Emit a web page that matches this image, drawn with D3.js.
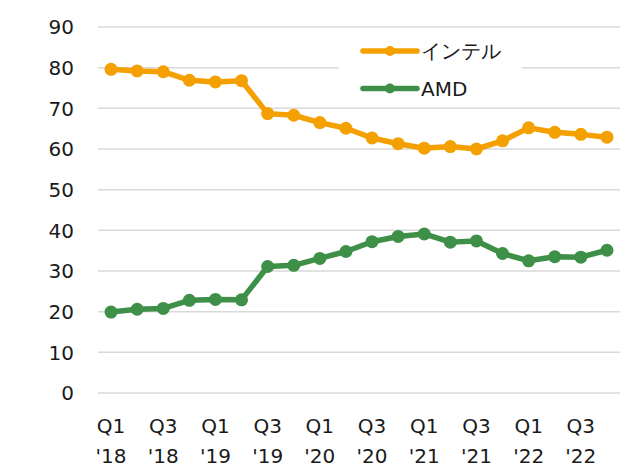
<!DOCTYPE html>
<html>
<head>
<meta charset="utf-8">
<script src="https://cdn.jsdelivr.net/npm/d3@7"></script>
<style>
  body { margin: 0; background: #fff; }
  svg { font-family: "DejaVu Sans", Verdana, sans-serif; }
</style>
</head>
<body>
<svg width="626" height="473"></svg>
<script>
var quarters = ["Q1 '18","Q2 '18","Q3 '18","Q4 '18","Q1 '19","Q2 '19","Q3 '19","Q4 '19",
                "Q1 '20","Q2 '20","Q3 '20","Q4 '20","Q1 '21","Q2 '21","Q3 '21","Q4 '21",
                "Q1 '22","Q2 '22","Q3 '22","Q4 '22"];
var intel = [79.6, 79.2, 79.0, 76.9, 76.5, 76.8, 68.7, 68.3, 66.5, 65.1,
             62.7, 61.3, 60.2, 60.6, 60.0, 62.0, 65.2, 64.1, 63.6, 62.9];
var amd = [19.9, 20.6, 20.8, 22.8, 23.0, 22.9, 31.1, 31.4, 33.1, 34.8,
           37.2, 38.5, 39.1, 37.1, 37.4, 34.3, 32.5, 33.5, 33.4, 35.1];
var yTicks = [0, 10, 20, 30, 40, 50, 60, 70, 80, 90];
var seriesNames = ["インテル", "AMD"];
var seriesColors = ["#F4A000", "#3E8F47"];

var svg = d3.select("svg"),
    margin = {top: 27, right: 6, bottom: 80, left: 98},
    width = 626 - margin.left - margin.right,
    height = 473 - margin.top - margin.bottom,
    g = svg.append("g").attr("transform", "translate(" + margin.left + "," + margin.top + ")");

var x = d3.scaleBand().domain(quarters).range([0, width]);
var y = d3.scaleLinear().domain([0, 90]).range([height, 0]);

// gridlines
g.append("g")
  .selectAll("line")
  .data(yTicks)
  .enter().append("line")
    .attr("x1", 0).attr("x2", width)
    .attr("y1", function(d) { return y(d); })
    .attr("y2", function(d) { return y(d); })
    .attr("stroke", "#D9D9D9")
    .attr("stroke-width", 1.5);

// y axis labels
g.append("g")
  .selectAll("text")
  .data(yTicks)
  .enter().append("text")
    .attr("x", -24)
    .attr("y", function(d) { return y(d); })
    .attr("dy", "0.36em")
    .attr("text-anchor", "end")
    .attr("font-size", 20)
    .attr("fill", "#1a1a1a")
    .text(function(d) { return d; });

// x axis labels every other quarter
var xl = g.append("g")
  .selectAll("text")
  .data(quarters.filter(function(d, i) { return i % 2 == 0; }))
  .enter().append("text")
    .attr("text-anchor", "middle")
    .attr("font-size", 20)
    .attr("fill", "#1a1a1a");
xl.append("tspan")
    .attr("x", function(d) { return x(d) + x.bandwidth() / 2; })
    .attr("y", height + 40)
    .text(function(d) { return d.split(" ")[0]; });
xl.append("tspan")
    .attr("x", function(d) { return x(d) + x.bandwidth() / 2; })
    .attr("y", height + 70)
    .text(function(d) { return d.split(" ")[1]; });

// legend background
var legend = g.append("g").attr("transform", "translate(241,4)");
legend.append("rect")
    .attr("width", 183).attr("height", 76)
    .attr("fill", "#fff");

var allSeries = [intel, amd];
var line = d3.line()
    .x(function(d, i) { return x(quarters[i]) + x.bandwidth() / 2; })
    .y(function(d) { return y(d); });

allSeries.forEach(function(s, k) {
  g.append("path")
    .datum(s)
    .attr("fill", "none")
    .attr("stroke", seriesColors[k])
    .attr("stroke-width", 5.5)
    .attr("stroke-linejoin", "round")
    .attr("d", line);
  g.append("g")
    .selectAll("circle")
    .data(s)
    .enter().append("circle")
      .attr("cx", function(d, i) { return x(quarters[i]) + x.bandwidth() / 2; })
      .attr("cy", function(d) { return y(d); })
      .attr("r", 6.5)
      .attr("fill", seriesColors[k]);

  var item = legend.append("g").attr("transform", "translate(0," + (20 + k * 37.5) + ")");
  item.append("line")
    .attr("x1", 24).attr("x2", 78)
    .attr("stroke", seriesColors[k])
    .attr("stroke-width", 5.5)
    .attr("stroke-linecap", "round");
  item.append("circle")
    .attr("cx", 51).attr("r", 5)
    .attr("fill", seriesColors[k]);
  item.append("text")
    .attr("x", 82)
    .attr("dy", "0.36em")
    .attr("font-size", 20)
    .attr("fill", "#1a1a1a")
    .text(seriesNames[k]);
});
</script>
</body>
</html>
